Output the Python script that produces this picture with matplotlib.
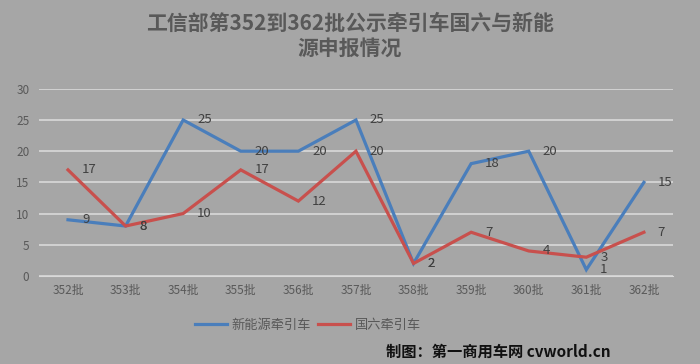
import matplotlib.pyplot as plt

plt.rcParams['font.family'] = ['Noto Sans CJK SC', 'DejaVu Sans']

# 数据
batches = ["352批", "353批", "354批", "355批", "356批", "357批", "358批", "359批", "360批", "361批", "362批"]
new_energy = [9, 8, 25, 20, 20, 25, 2, 18, 20, 1, 15]
guo6 = [17, 8, 10, 17, 12, 20, 2, 7, 4, 3, 7]

bg = "#a6a6a6"
blue = "#4a7ebb"
red = "#c8504d"

fig = plt.figure(figsize=(7, 3.64), dpi=100, facecolor=bg)
ax = fig.add_axes([0.056, 0.242, 0.905, 0.514], facecolor=bg)

x = list(range(len(batches)))
ax.plot(x, new_energy, color=blue, lw=2.3, label="新能源牵引车", solid_joinstyle="miter")
ax.plot(x, guo6, color=red, lw=2.3, label="国六牵引车", solid_joinstyle="miter")

for xi, v in zip(x, new_energy):
    ax.annotate(str(v), (xi, v), xytext=(10, 0), textcoords="offset points",
                va="center", ha="left", fontsize=9.5, color="#404040")
for xi, v in zip(x, guo6):
    ax.annotate(str(v), (xi, v), xytext=(10, 0), textcoords="offset points",
                va="center", ha="left", fontsize=9.5, color="#404040")

ax.set_xlim(-0.5, len(batches) - 0.5)
ax.set_ylim(0, 30)
ax.set_yticks(range(0, 31, 5))
ax.set_xticks(x)
ax.set_xticklabels(batches)
ax.yaxis.grid(True, color="#d9d9d9", lw=1.2)
ax.set_axisbelow(True)
for s in ax.spines.values():
    s.set_visible(False)
ax.spines["bottom"].set_visible(True)
ax.spines["bottom"].set_color("#d9d9d9")
ax.tick_params(length=0, colors="#595959", labelsize=8.5)
ax.tick_params(axis="x", pad=6)
ax.tick_params(axis="y", pad=7)

fig.text(0.5, 0.935, "工信部第352到362批公示牵引车国六与新能", ha="center", va="center",
         fontsize=15, fontweight="bold", color="#595959")
fig.text(0.5, 0.868, "源申报情况", ha="center", va="center",
         fontsize=15, fontweight="bold", color="#595959")

leg = fig.legend(loc="center", bbox_to_anchor=(0.44, 0.107), ncol=2, frameon=False,
                 fontsize=9.5, handlelength=2.4, columnspacing=0.5, handletextpad=0.4)
for t in leg.get_texts():
    t.set_color("#595959")

fig.text(0.551, 0.033, "制图：第一商用车网 cvworld.cn", ha="left", va="center",
         fontsize=11, fontweight="bold", color="#111111")

fig.savefig("out.png", dpi=100, facecolor=bg)
